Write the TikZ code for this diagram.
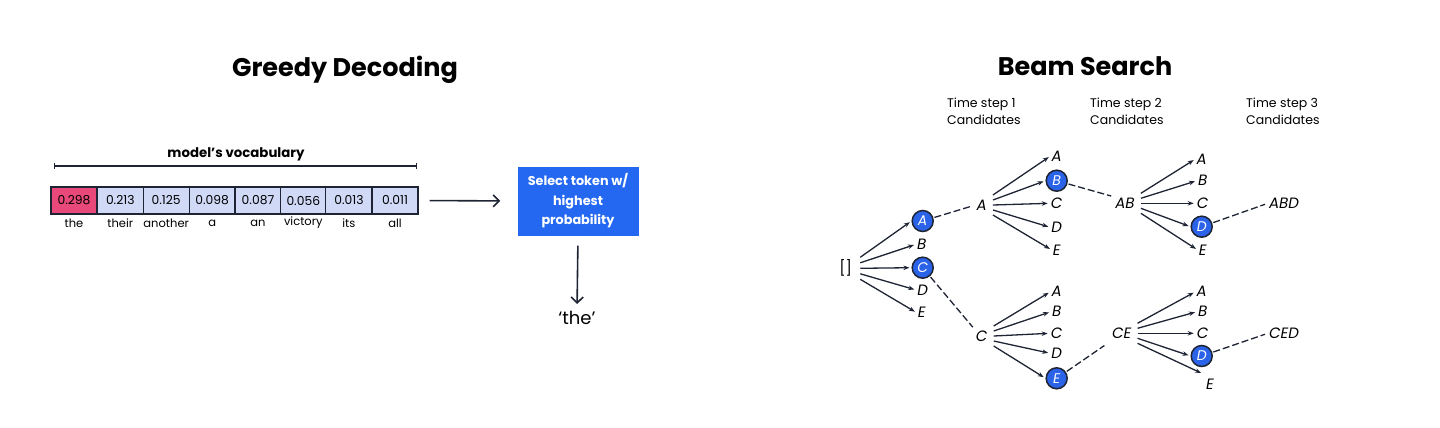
\documentclass[tikz,border=0pt]{standalone}
\usepackage{fontspec}
\setmainfont{Poppins}
\usetikzlibrary{arrows.meta,calc}
\definecolor{pinkc}{HTML}{E8487A}
\definecolor{lav}{HTML}{D0DAF7}
\definecolor{navy}{HTML}{1E2433}
\definecolor{boxblue}{HTML}{2468F2}
\definecolor{cblue}{HTML}{2A62E8}
\begin{document}
\begin{tikzpicture}[x=1pt,y=-1pt,
 title/.style={font=\fontsize{25.5}{30}\selectfont\bfseries, inner sep=0pt},
 cell/.style={draw=navy, line width=1.1pt, minimum width=46pt, minimum height=27pt, inner sep=0pt, fill=lav, font=\fontsize{12.3}{14}\selectfont},
 word/.style={font=\fontsize{11.5}{13}\selectfont, inner sep=0pt},
 lbl/.style={font=\fontsize{15}{17}\selectfont\itshape, inner sep=1pt},
 sel/.style={circle, draw=navy, line width=1.5pt, fill=cblue, text=white, minimum size=21pt, inner sep=0pt, font=\fontsize{14}{16}\selectfont\itshape},
 fan/.style={-{Stealth[length=6pt,width=4.5pt]}, line width=1.3pt, draw=navy, shorten >=2pt},
 dsh/.style={dash pattern=on 7pt off 3pt, line width=1.3pt, draw=navy, shorten <=1pt, shorten >=3pt},
 harr/.style={-{Straight Barb[length=6pt,width=12pt]}, line width=1.6pt, draw=navy},
 tstep/.style={font=\fontsize{12.5}{17}\selectfont, align=left, anchor=north west, inner sep=0pt},
]
\useasboundingbox (0,0) rectangle (1440,428);

% ---------- Greedy decoding ----------
\node[title] (gtitle) at (345,70) {Greedy Decoding};
\node[font=\fontsize{13.3}{15}\selectfont\bfseries, inner sep=0pt] (voc) at (236,154) {model’s vocabulary};
\coordinate (bl) at (54,166);
\coordinate (br) at (417,166);
\draw[{Bar[width=6pt]}-{Bar[width=6pt]}, line width=1.1pt, navy] (bl) -- (br);

\node[cell, fill=pinkc] (c1) at (74,200.5) {0.298};
\node[cell] (c2) at (120.3,200.5) {0.213};
\node[cell] (c3) at (166.2,200.5) {0.125};
\node[cell] (c4) at (212.2,200.5) {0.098};
\node[cell] (c5) at (258,200.5) {0.087};
\node[cell] (c6) at (303.3,200.5) {0.056};
\node[cell] (c7) at (348.9,200.5) {0.013};
\node[cell] (c8) at (395,200.5) {0.011};

\node[word] (w1) at (74,223) {the};
\node[word] (w2) at (120.3,223) {their};
\node[word] (w3) at (166.2,223) {another};
\node[word] (w4) at (212.2,223) {a};
\node[word] (w5) at (258,223) {an};
\node[word] (w6) at (303.3,223) {victory};
\node[word] (w7) at (348.9,223) {its};
\node[word] (w8) at (395,223) {all};

\node[fill=boxblue, text=white, minimum width=121pt, minimum height=69pt, inner sep=0pt, align=center,
      font=\fontsize{12.8}{19.5}\selectfont\bfseries] (box) at (578,201) {Select token w/\\highest\\probability};
\node[font=\fontsize{18}{20}\selectfont, inner sep=0pt] (thew) at (577,318) {‘the’};

\draw[harr, shorten <=11pt, shorten >=17pt] (c8.east) -- (box.west);
\draw[harr, shorten <=10pt, shorten >=7pt] (box.south) -- (thew.north);

% ---------- Beam search ----------
\node[title] (btitle) at (1085,66) {Beam Search};
\node[tstep] (ts1) at (947,98) {Time step 1\\Candidates};
\node[tstep] (ts2) at (1090,98) {Time step 2\\Candidates};
\node[tstep] (ts3) at (1246,98) {Time step 3\\Candidates};

% level 1
\node[lbl, font=\fontsize{15}{17}\selectfont] (root) at (845.7,268.3) {[]};
\node[sel] (t1a) at (922.7,221) {A};
\node[lbl] (t1b) at (921.7,244.3) {B};
\node[sel] (t1c) at (922.7,267.7) {C};
\node[lbl] (t1d) at (922.7,290) {D};
\node[lbl] (t1e) at (921.7,312.7) {E};
\foreach \c [count=\i] in {t1a,t1b,t1c,t1d,t1e}
  \draw[fan] ($(root.east)+(7,{(\i-3)*5.5})$) -- (\c.west);

% level 2 parents
\node[lbl] (p2a) at (981.7,205) {A};
\node[lbl] (p2c) at (981.7,336) {C};
\draw[dsh] (t1a) -- (p2a.west);
\draw[dsh] (t1c) -- (p2c.north west);

% level 2 upper children
\node[lbl] (u2a) at (1056.7,156) {A};
\node[sel] (u2b) at (1056.7,180.7) {B};
\node[lbl] (u2c) at (1056.7,203.3) {C};
\node[lbl] (u2d) at (1056.7,227.3) {D};
\node[lbl] (u2e) at (1056.7,250) {E};
\foreach \c [count=\i] in {u2a,u2b,u2c,u2d,u2e}
  \draw[fan] ($(p2a.east)+(5,{(\i-3)*5})$) -- (\c.west);

% level 2 lower children
\node[lbl] (l2a) at (1056.7,291.7) {A};
\node[lbl] (l2b) at (1056.7,311.7) {B};
\node[lbl] (l2c) at (1056.7,333.3) {C};
\node[lbl] (l2d) at (1056.7,353.3) {D};
\node[sel] (l2e) at (1056.7,378.3) {E};
\foreach \c [count=\i] in {l2a,l2b,l2c,l2d,l2e}
  \draw[fan] ($(p2c.east)+(5,{(\i-3)*5})$) -- (\c.west);

% level 3 parents
\node[lbl] (p3ab) at (1125,203.3) {AB};
\node[lbl] (p3ce) at (1121.7,333.3) {CE};
\draw[dsh] (u2b) -- (p3ab.north west);
\draw[dsh] (l2e) -- ($(p3ce.south west)+(-4,4)$);

% level 3 upper children
\node[lbl] (u3a) at (1201.7,159) {A};
\node[lbl] (u3b) at (1202.7,180.7) {B};
\node[lbl] (u3c) at (1202.7,203.3) {C};
\node[sel] (u3d) at (1201.7,226.7) {D};
\node[lbl] (u3e) at (1202.7,250) {E};
\foreach \c [count=\i] in {u3a,u3b,u3c,u3d,u3e}
  \draw[fan] ($(p3ab.east)+(5,{(\i-3)*5})$) -- (\c.west);

% level 3 lower children
\node[lbl] (l3a) at (1201.7,291.7) {A};
\node[lbl] (l3b) at (1202.7,311.7) {B};
\node[lbl] (l3c) at (1202.7,333.3) {C};
\node[sel] (l3d) at (1201.7,356) {D};
\node[lbl] (l3e) at (1210,384.3) {E};
\foreach \c [count=\i] in {l3a,l3b,l3c,l3d}
  \draw[fan] ($(p3ce.east)+(5,{(\i-3)*5})$) -- (\c.west);
\draw[fan] ($(p3ce.east)+(5,10)$) -- ($(l3e.north west)+(-2,-4)$);

% finals
\node[lbl] (abd) at (1284,203.3) {ABD};
\node[lbl] (ced) at (1284,333.3) {CED};
\draw[dsh] (u3d) -- (abd.west);
\draw[dsh] (l3d) -- (ced.west);
\end{tikzpicture}
\end{document}
